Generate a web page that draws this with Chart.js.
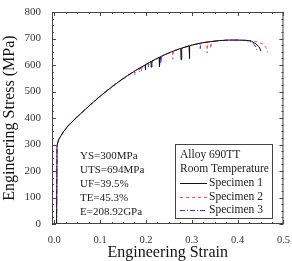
<!DOCTYPE html>
<html>
<head>
<meta charset="utf-8">
<script src="https://cdn.jsdelivr.net/npm/chart.js@4/dist/chart.umd.min.js"></script>
<style>
  html, body { margin: 0; padding: 0; background: #fff; }
  #wrap { width: 292px; height: 261px; }
</style>
</head>
<body>
<div id="wrap"><canvas id="tensile-chart"></canvas></div>
<script>
/*=======================================
 data
========================================*/

// Specimen 1 (black, solid)
var s1Strain = [0.005, 0.006, 0.01, 0.02, 0.03, 0.045, 0.06, 0.08, 0.1, 0.12, 0.14, 0.16, 0.18, 0.198, 0.1985, 0.2, 0.211, 0.2115, 0.213, 0.229, 0.2295, 0.231, 0.25, 0.276, 0.2765, 0.278, 0.294, 0.2945, 0.296, 0.32, 0.34, 0.36, 0.38, 0.4, 0.42, 0.43, 0.44, 0.447, 0.451];
var s1Stress = [0, 298, 320, 348, 370, 396, 420, 452, 482, 510, 536, 560, 582, 600, 582, 602, 613, 592, 615, 629, 594, 631, 646, 663, 620, 664, 672, 624, 673, 683, 688, 692, 694, 694, 693, 690, 680, 668, 652];

// Specimen 2 (red, dashed)
var s2Strain = [0.005, 0.006, 0.01, 0.02, 0.03, 0.045, 0.06, 0.08, 0.1, 0.12, 0.14, 0.16, 0.175, 0.1755, 0.177, 0.19, 0.1905, 0.192, 0.22, 0.258, 0.2585, 0.26, 0.3, 0.333, 0.3335, 0.335, 0.341, 0.3415, 0.343, 0.36, 0.38, 0.4, 0.42, 0.44, 0.455, 0.462, 0.466];
var s2Stress = [0, 296, 319, 347, 369, 395, 419, 451, 481, 509, 535, 559, 576, 560, 578, 591, 576, 593, 620, 651, 622, 653, 675, 686, 645, 687, 688, 662, 689, 692, 694, 694, 693, 689, 680, 665, 647];

// Specimen 3 (blue, dash-dot)
var s3Strain = [0.005, 0.006, 0.01, 0.02, 0.03, 0.045, 0.06, 0.08, 0.1, 0.12, 0.14, 0.16, 0.186, 0.1865, 0.188, 0.205, 0.2055, 0.207, 0.232, 0.2325, 0.234, 0.26, 0.3, 0.318, 0.3185, 0.32, 0.34, 0.36, 0.38, 0.4, 0.42, 0.43, 0.437, 0.441, 0.443];
var s3Stress = [0, 299, 321, 349, 371, 397, 421, 453, 483, 511, 537, 561, 588, 574, 590, 607, 592, 609, 631, 606, 633, 653, 675, 682, 662, 683, 688, 692, 694, 694, 692, 687, 676, 662, 649];

var seriesNames = ['Specimen 1', 'Specimen 2', 'Specimen 3'];
var legendTitle = ['Alloy 690TT', 'Room Temperature'];
var propertyLines = ['YS=300MPa', 'UTS=694MPa', 'UF=39.5%', 'TE=45.3%', 'E=208.92GPa'];

var xTickValues = [0, 0.1, 0.2, 0.3, 0.4, 0.5];
var yTickValues = [0, 100, 200, 300, 400, 500, 600, 700, 800];

const serif = '"Liberation Serif", "DejaVu Serif", serif';

// zip strain/stress arrays into {x, y} points
function toPoints(xs, ys) {
   return xs.map((x, i) => ({ x: x, y: ys[i] }));
}

/*=======================================
 frame, inward ticks, text block, legend
========================================*/
const decorPlugin = {
   id: 'decor',
   afterDatasetsDraw(chart) {
      const ctx = chart.ctx;
      const a = chart.chartArea;
      const xs = chart.scales.x;
      const ys = chart.scales.y;

      ctx.save();
      ctx.strokeStyle = '#444';
      ctx.lineWidth = 1;
      ctx.strokeRect(a.left + 0.5, a.top + 0.5, a.right - a.left - 1, a.bottom - a.top - 1);

      // ticks pointing into the plot, on all four sides
      ctx.beginPath();
      for (let v = 0; v <= 0.5001; v += 0.025) {
         const px = Math.round(xs.getPixelForValue(v)) + 0.5;
         const len = Math.abs(v * 10 - Math.round(v * 10)) < 1e-6 ? 4 : 2;
         ctx.moveTo(px, a.bottom); ctx.lineTo(px, a.bottom - len);
         ctx.moveTo(px, a.top); ctx.lineTo(px, a.top + len);
      }
      for (let v = 0; v <= 800; v += 25) {
         const py = Math.round(ys.getPixelForValue(v)) + 0.5;
         const len = v % 100 === 0 ? 4 : 2;
         ctx.moveTo(a.left, py); ctx.lineTo(a.left + len, py);
         ctx.moveTo(a.right, py); ctx.lineTo(a.right - len, py);
      }
      ctx.stroke();

      // material properties
      ctx.fillStyle = '#222';
      ctx.font = '11px ' + serif;
      ctx.textBaseline = 'middle';
      ctx.textAlign = 'left';
      propertyLines.forEach((t, i) => {
         ctx.fillText(t, 80, 156 + i * 14);
      });

      // legend box
      const bx = 175, by = 144, bw = 97, bh = 74;
      ctx.strokeStyle = '#444';
      ctx.strokeRect(bx + 0.5, by + 0.5, bw, bh);
      ctx.font = '11.5px ' + serif;
      legendTitle.forEach((t, i) => {
         ctx.fillText(t, 180, 155 + i * 14);
      });
      chart.data.datasets.forEach((ds, i) => {
         const ly = 183 + i * 13.5;
         ctx.save();
         ctx.strokeStyle = ds.borderColor;
         ctx.lineWidth = 1;
         ctx.setLineDash(ds.borderDash || []);
         ctx.beginPath();
         ctx.moveTo(180, Math.round(ly) + 0.5);
         ctx.lineTo(207, Math.round(ly) + 0.5);
         ctx.stroke();
         ctx.restore();
         ctx.fillText(ds.label, 209, ly);
      });
      ctx.restore();
   }
};

var ctx = document.getElementById('tensile-chart');

var tensileChart = new Chart(ctx, {
   type: 'scatter',
   data: {
      datasets: [
         {
            label: seriesNames[0],
            data: toPoints(s1Strain, s1Stress),
            borderColor: '#111111',
            borderWidth: 1,
            showLine: true,
            pointRadius: 0
         },
         {
            label: seriesNames[1],
            data: toPoints(s2Strain, s2Stress),
            borderColor: '#ff5050',
            borderWidth: 1,
            borderDash: [3, 3],
            showLine: true,
            pointRadius: 0
         },
         {
            label: seriesNames[2],
            data: toPoints(s3Strain, s3Stress),
            borderColor: '#3535ee',
            borderWidth: 1,
            borderDash: [5, 2, 1, 2],
            showLine: true,
            pointRadius: 0
         }
      ]
   },
   options: {
      responsive: true,
      maintainAspectRatio: false,
      animation: { duration: 0 },
      layout: { padding: { top: 12, right: 6, left: 0, bottom: 0 } },
      plugins: {
         legend: { display: false },
         tooltip: { enabled: false }
      },
      scales: {
         x: {
            type: 'linear',
            min: -0.005,
            max: 0.5,
            afterBuildTicks: s => { s.ticks = xTickValues.map(v => ({ value: v })); },
            afterFit: s => { s.height = 37; },
            grid: { display: false },
            border: { display: false },
            ticks: {
               padding: 2,
               color: '#333',
               font: { family: serif, size: 10.5 },
               maxRotation: 0,
               autoSkip: false,
               callback: v => v.toFixed(1)
            },
            title: {
               display: true,
               text: 'Engineering Strain',
               color: '#111',
               font: { family: serif, size: 16, lineHeight: 1 },
               padding: 0
            }
         },
         y: {
            min: 0,
            max: 800,
            afterBuildTicks: s => { s.ticks = yTickValues.map(v => ({ value: v })); },
            afterFit: s => { s.width = 52; },
            grid: { display: false },
            border: { display: false },
            ticks: {
               padding: 3,
               color: '#333',
               font: { family: serif, size: 11 },
               autoSkip: false
            },
            title: {
               display: true,
               text: 'Engineering Stress (MPa)',
               color: '#111',
               font: { family: serif, size: 16 },
               padding: 0
            }
         }
      }
   },
   plugins: [decorPlugin]
});
</script>
</body>
</html>
